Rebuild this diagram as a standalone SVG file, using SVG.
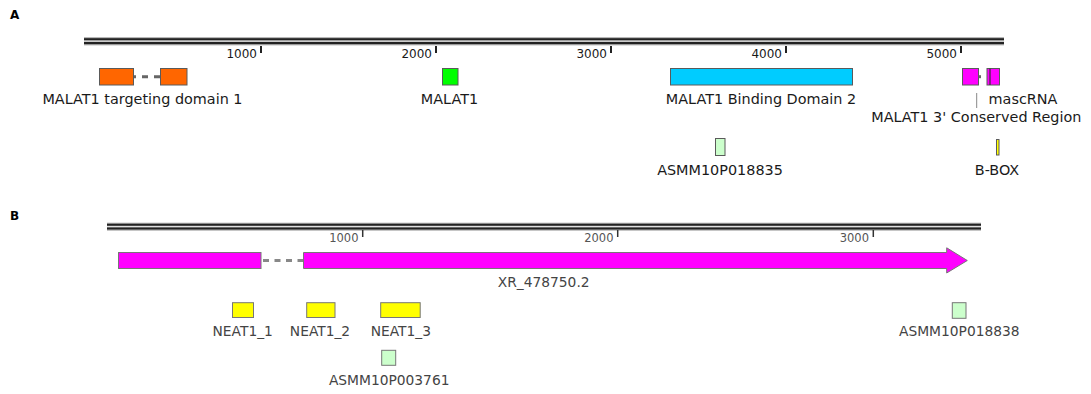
<svg xmlns="http://www.w3.org/2000/svg" width="1091" height="394" viewBox="0 0 1091 394">
<style>
text{font-family:"DejaVu Sans","Liberation Sans",sans-serif;}
.pl{font-size:12px;font-weight:bold;fill:#000;}
.la{font-size:14.4px;fill:#1a1a1a;text-anchor:middle;}
.lb{font-size:13.8px;fill:#444;text-anchor:middle;}
.tka{font-size:12px;fill:#1a1a1a;text-anchor:end;}
.tkb{font-size:11.5px;fill:#555;text-anchor:end;}
.bx{stroke:#5a5a5a;stroke-width:1;}
.bxb{stroke:#777;stroke-width:1;}
.axg{fill:#9a9a9a;}
.axd{stroke:#222;stroke-width:2;}
.tick{stroke:#222;stroke-width:2;}
.tickb{stroke:#333;stroke-width:1.5;}
</style>
<rect width="1091" height="394" fill="#fff"/>

<g id="panel-A">
  <text class="pl" x="10" y="18.5">A</text>
  <g id="axis-A">
    <rect class="axg" x="84" y="37.3" width="920" height="8"/>
    <rect fill="#e0e0e0" x="84" y="40.3" width="920" height="1.4"/>
    <line class="axd" x1="84" y1="39.3" x2="1004" y2="39.3"/>
    <line class="axd" x1="84" y1="43" x2="1004" y2="43"/>
    <line class="tick" x1="261" y1="46" x2="261" y2="53"/>
    <line class="tick" x1="436" y1="46" x2="436" y2="53"/>
    <line class="tick" x1="611" y1="46" x2="611" y2="53"/>
    <line class="tick" x1="786" y1="46" x2="786" y2="53"/>
    <line class="tick" x1="961" y1="46" x2="961" y2="53"/>
    <text class="tka" x="257" y="58">1000</text>
    <text class="tka" x="432" y="58">2000</text>
    <text class="tka" x="607" y="58">3000</text>
    <text class="tka" x="782" y="58">4000</text>
    <text class="tka" x="957" y="58">5000</text>
  </g>
  <g id="malat1-targeting-domain-1">
    <rect class="bx" x="99.5" y="68.5" width="34" height="16.5" fill="#FF6600"/>
    <rect class="bx" x="160.5" y="68.5" width="26.5" height="16.5" fill="#FF6600"/>
    <text class="la" x="142.5" y="104">MALAT1 targeting domain 1</text>
  </g>
  <g id="malat1">
    <rect class="bx" x="442.5" y="68.5" width="15.5" height="16.5" fill="#00FF00"/>
    <text class="la" x="449.5" y="104">MALAT1</text>
  </g>
  <g id="malat1-binding-domain-2">
    <rect class="bx" x="670.5" y="68.5" width="182" height="16.5" fill="#00CCFF"/>
    <text class="la" x="761" y="104">MALAT1 Binding Domain 2</text>
  </g>
  <g id="malat1-3-conserved-region">
    <rect class="bx" x="962.5" y="68.5" width="16" height="16.5" fill="#FF00FF"/>
    <line x1="976.7" y1="93" x2="976.7" y2="108" stroke="#888" stroke-width="1"/>
    <text class="la" x="976.3" y="121.5">MALAT1 3' Conserved Region</text>
  </g>
  <g id="mascRNA">
    <rect class="bx" x="987" y="68.5" width="12.5" height="16.5" fill="#FF00FF"/>
    <line x1="990" y1="68.5" x2="990" y2="85" stroke="#333" stroke-width="1.2"/>
    <text class="la" x="1023" y="104">mascRNA</text>
  </g>
  <g id="asmm10p018835">
    <rect class="bx" x="715.5" y="138.5" width="9.5" height="17" fill="#CCFFCC"/>
    <text class="la" x="720" y="175">ASMM10P018835</text>
  </g>
  <g id="b-box">
    <rect class="bx" x="996.5" y="139.5" width="2.5" height="15.5" fill="#FFFF00"/>
    <text class="la" x="997" y="174.5">B-BOX</text>
  </g>
</g>

<g id="panel-B">
  <text class="pl" x="10" y="219.5">B</text>
  <g id="axis-B">
    <rect class="axg" x="107" y="222.7" width="874" height="8" opacity="0.8"/>
    <rect fill="#e0e0e0" x="107" y="225.7" width="874" height="1.4"/>
    <line class="axd" x1="107" y1="224.7" x2="981" y2="224.7" stroke="#333"/>
    <line class="axd" x1="107" y1="228.4" x2="981" y2="228.4" stroke="#333"/>
    <line class="tickb" x1="362.7" y1="230" x2="362.7" y2="237"/>
    <line class="tickb" x1="617.7" y1="230" x2="617.7" y2="237"/>
    <line class="tickb" x1="873.3" y1="230" x2="873.3" y2="237"/>
    <text class="tkb" x="358.5" y="241.5">1000</text>
    <text class="tkb" x="613.5" y="241.5">2000</text>
    <text class="tkb" x="869" y="241.5">3000</text>
  </g>
  <g id="xr-478750-2">
    <rect class="bxb" x="118.5" y="252.5" width="142.5" height="16" fill="#FF00FF"/>
    <polygon class="bxb" points="303.5,252.5 946.7,252.5 946.7,247.8 967.3,260.5 946.7,273 946.7,268.5 303.5,268.5" fill="#FF00FF"/>
    <text class="lb" x="543.7" y="287">XR_478750.2</text>
  </g>
  <g id="neat1-1">
    <rect class="bxb" x="232.5" y="302.7" width="21" height="14.8" fill="#FFFF00"/>
    <text class="lb" x="242.7" y="335.5">NEAT1_1</text>
  </g>
  <g id="neat1-2">
    <rect class="bxb" x="306.7" y="302.7" width="28.3" height="14.8" fill="#FFFF00"/>
    <text class="lb" x="320" y="335.5">NEAT1_2</text>
  </g>
  <g id="neat1-3">
    <rect class="bxb" x="380.7" y="302.7" width="39.5" height="14.8" fill="#FFFF00"/>
    <text class="lb" x="400.8" y="335.5">NEAT1_3</text>
  </g>
  <g id="asmm10p003761">
    <rect class="bxb" x="381.7" y="350.3" width="14" height="15" fill="#CCFFCC"/>
    <text class="lb" x="389.2" y="385">ASMM10P003761</text>
  </g>
  <g id="asmm10p018838">
    <rect class="bxb" x="952.3" y="302.7" width="13.7" height="15.6" fill="#CCFFCC"/>
    <text class="lb" x="959.3" y="335.5">ASMM10P018838</text>
  </g>
</g>

<g id="connectors">
  <line x1="160" y1="76.7" x2="134" y2="76.7" stroke="#666" stroke-width="3" stroke-dasharray="6 6"/>
  <line x1="978.5" y1="76.7" x2="981" y2="76.7" stroke="#666" stroke-width="3"/>
  <line x1="263" y1="260.5" x2="303" y2="260.5" stroke="#888" stroke-width="3" stroke-dasharray="6 5.5"/>
</g>
</svg>
